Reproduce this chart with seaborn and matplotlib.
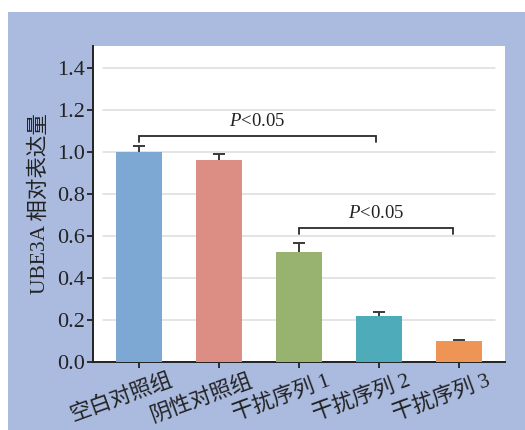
import matplotlib
matplotlib.use("Agg")
import matplotlib.pyplot as plt
import matplotlib.transforms as mtransforms
from matplotlib.patches import Rectangle
import seaborn as sns
import pandas as pd

# Relative UBE3A expression per group (mean and upper SD)
groups = ["空白对照组", "阴性对照组", "干扰序列 1", "干扰序列 2", "干扰序列 3"]
means = [1.00, 0.962, 0.524, 0.219, 0.100]
sds = [0.030, 0.028, 0.044, 0.019, 0.006]
colors = ["#7EA8D4", "#DC8E84", "#98B370", "#4EACBA", "#EE9556"]
yticks = [0.0, 0.2, 0.4, 0.6, 0.8, 1.0, 1.2, 1.4]

# Significance brackets: (start group, end group, bar height, label)
brackets = [(0, 2.96, 1.076, "P<0.05"), (2, 3.93, 0.638, "P<0.05")]

sns.set_theme(style="white")
plt.rcParams["font.family"] = ["Liberation Serif", "Noto Sans CJK SC"]
plt.rcParams["mathtext.fontset"] = "custom"
plt.rcParams["mathtext.rm"] = "Liberation Serif"
plt.rcParams["mathtext.it"] = "Liberation Serif:italic"

W, H = 525, 430
fig = plt.figure(figsize=(W / 100, H / 100), dpi=100)
fig.patch.set_facecolor("white")
bg = "#ABBBDF"
fig.patches.append(Rectangle((8 / W, 0), 1 - 8 / W, 1 - 12 / H,
                             transform=fig.transFigure, facecolor=bg,
                             edgecolor="none", zorder=-10))

ax = fig.add_axes([93 / W, 68 / H, 412 / W, 316 / H])
ax.set_facecolor("white")

df = pd.DataFrame({"group": groups, "value": means})
sns.barplot(data=df, x="group", y="value", hue="group", palette=colors,
            width=0.575, errorbar=None, legend=False, ax=ax, zorder=3,
            saturation=1, linewidth=0, edgecolor="none")

# Upper-only error bars: hide the cap that would sit on the bar top
eb = ax.errorbar(range(len(groups)), means, yerr=[[0] * len(sds), sds], fmt="none",
                 ecolor="#3a3a3a", elinewidth=1.4, capsize=4.3, capthick=1.4, zorder=2)
eb.lines[1][0].set_visible(False)

ax.set_xlim(-0.575, 4.575)
ax.set_ylim(0, 1.505)
ax.set_yticks(yticks)
ax.set_yticklabels([f"{v:.1f}" for v in yticks])

for v in yticks[1:]:
    ax.axhline(v, xmin=0.024, xmax=0.976, color="#DCDCDC", lw=1.1, zorder=1)

for s in ["top", "right"]:
    ax.spines[s].set_visible(False)
for s in ["left", "bottom"]:
    ax.spines[s].set_color("#222222")
    ax.spines[s].set_linewidth(1.4)

ax.tick_params(axis="both", which="both", length=4, width=1.3, color="#222222",
               labelsize=16, labelcolor="#222222", pad=2, direction="out")
ax.tick_params(axis="x", bottom=True)
ax.tick_params(axis="y", left=True)

ax.set_xlabel("")
ax.set_ylabel("UBE3A 相对表达量", fontsize=15.5, color="#222222", labelpad=5)

offset = mtransforms.ScaledTranslation(-18 / 100, 0, fig.dpi_scale_trans)
for lab in ax.get_xticklabels():
    lab.set_rotation(20)
    lab.set_ha("center")
    lab.set_fontsize(15.5)
    lab.set_transform(lab.get_transform() + offset)

for x0, x1, y, text in brackets:
    ax.plot([x0, x0, x1, x1], [y - 0.026, y, y, y - 0.026], color="#2a2a2a",
            lw=1.3, zorder=4, solid_joinstyle="miter")
    ax.text((x0 + x1) / 2, y + 0.028, r"$\it{P}$<0.05", ha="center", va="bottom",
            fontsize=13.5, color="#222222")

fig.savefig("out.png", dpi=100, facecolor=fig.get_facecolor())
